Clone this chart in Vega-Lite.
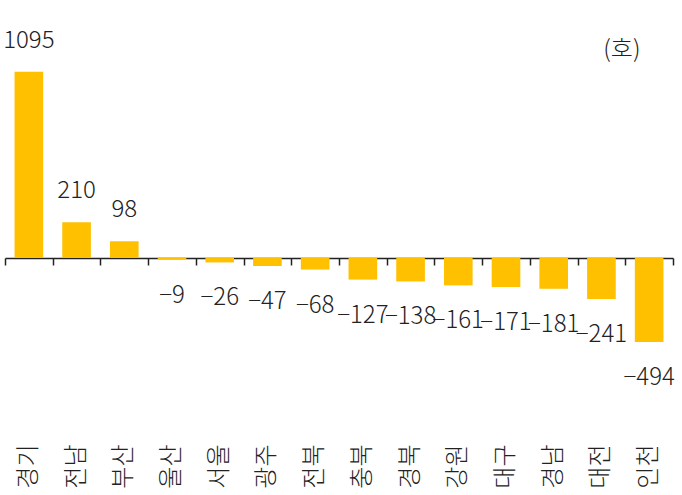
{
  "$schema": "https://vega.github.io/schema/vega-lite/v6.json",
  "autosize": "none",
  "width": 668,
  "height": 425,
  "padding": {"left": 5, "top": 3, "right": 9, "bottom": 67},
  "background": "white",
  "data": {
    "values": [
      {"region": "경기", "value": 1095},
      {"region": "전남", "value": 210},
      {"region": "부산", "value": 98},
      {"region": "울산", "value": -9},
      {"region": "서울", "value": -26},
      {"region": "광주", "value": -47},
      {"region": "전북", "value": -68},
      {"region": "충북", "value": -127},
      {"region": "경북", "value": -138},
      {"region": "강원", "value": -161},
      {"region": "대구", "value": -171},
      {"region": "경남", "value": -181},
      {"region": "대전", "value": -241},
      {"region": "인천", "value": -494}
    ]
  },
  "encoding": {
    "x": {
      "field": "region",
      "type": "nominal",
      "sort": null,
      "scale": {"paddingInner": 0, "paddingOuter": 0}
    },
    "y": {
      "field": "value",
      "type": "quantitative",
      "scale": {"domain": [-1000, 1500], "nice": false}
    }
  },
  "layer": [
    {
      "mark": {"type": "bar", "color": "#FFC000", "width": {"band": 0.6}},
      "encoding": {
        "x": {
          "field": "region",
          "type": "nominal",
          "sort": null,
          "axis": {
            "orient": "bottom",
            "title": null,
            "domain": false,
            "ticks": false,
            "labelAngle": -90,
            "labelAlign": "right",
            "labelBaseline": "middle",
            "labelPadding": 16,
            "labelFont": "Noto Sans CJK KR",
            "labelFontSize": 24,
            "labelFontWeight": 300,
            "labelColor": "#222222"
          }
        },
        "y": {
          "field": "value",
          "type": "quantitative",
          "axis": {
            "orient": "right",
            "title": "(호)",
            "domain": false,
            "ticks": false,
            "labels": false,
            "grid": false,
            "titleAngle": 0,
            "titleX": -33,
            "titleY": 46,
            "titleAlign": "right",
            "titleBaseline": "middle",
            "titleFont": "Noto Sans CJK KR",
            "titleFontSize": 24,
            "titleFontWeight": 300,
            "titleColor": "#222222"
          }
        }
      }
    },
    {
      "transform": [{"filter": "datum.value >= 0"}],
      "mark": {"type": "text", "baseline": "alphabetic", "dy": -24, "font": "Noto Sans CJK KR", "fontSize": 24, "fontWeight": 300, "color": "#222222"},
      "encoding": {
        "x": {
          "field": "region",
          "type": "nominal",
          "sort": null,
          "axis": {
            "orient": "bottom",
            "offset": -170,
            "title": null,
            "labels": false,
            "domain": true,
            "domainColor": "#222222",
            "domainWidth": 1.5,
            "ticks": true,
            "tickBand": "extent",
            "tickSize": 7,
            "tickColor": "#222222",
            "tickWidth": 1.5
          }
        },
        "text": {"field": "value", "type": "quantitative", "format": "d"}
      }
    },
    {
      "transform": [{"filter": "datum.value < 0"}],
      "mark": {"type": "text", "baseline": "alphabetic", "dy": 43, "font": "Noto Sans CJK KR", "fontSize": 24, "fontWeight": 300, "color": "#222222"},
      "encoding": {
        "x": {"field": "region", "type": "nominal", "sort": null, "axis": null},
        "text": {"field": "value", "type": "quantitative", "format": "d"}
      }
    }
  ],
  "resolve": {"axis": {"x": "independent"}},
  "config": {"view": {"stroke": null}}
}
